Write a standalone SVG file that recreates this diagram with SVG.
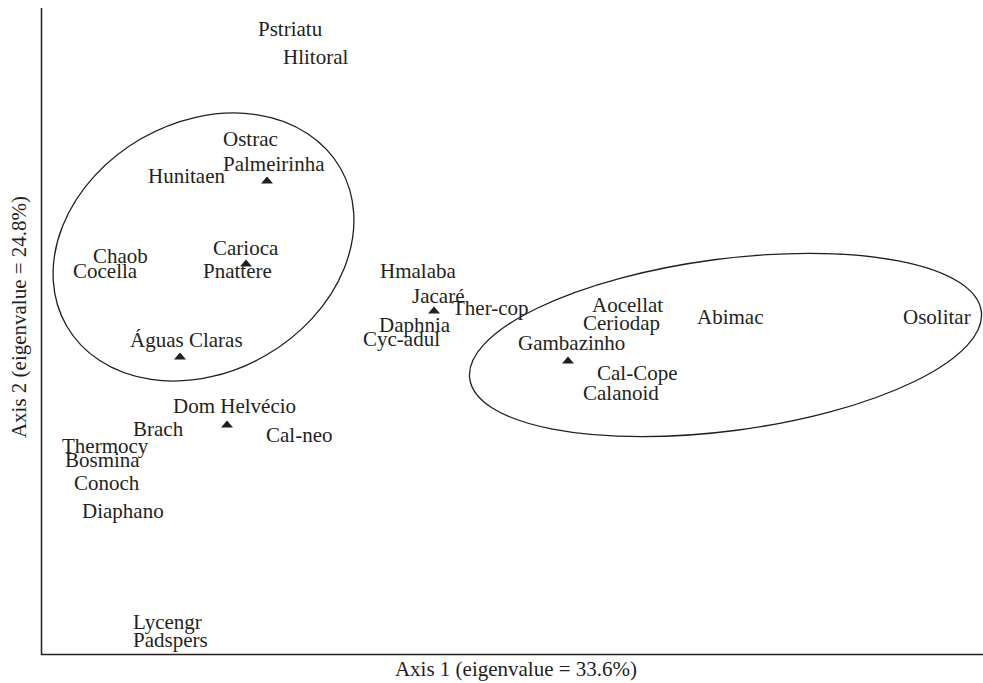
<svg xmlns="http://www.w3.org/2000/svg" width="983" height="683" viewBox="0 0 983 683">
<style>
text{font-family:"Liberation Serif","Times New Roman",serif;font-size:21px;fill:#231f20}
.ax{stroke:#231f20;stroke-width:1.5;fill:none}
.ell{stroke:#231f20;stroke-width:1.3;fill:none}
.tri{fill:#231f20}
</style>
<defs>
<path id="tri" class="tri" d="M-6,3.5 L6,3.5 L0,-3.5 Z"/>
</defs>
<rect width="983" height="683" fill="#fff"/>
<g id="axes">
<path class="ax" d="M41.5,8 V654.5 H983"/>
<text x="516" y="676" text-anchor="middle">Axis 1 (eigenvalue = 33.6%)</text>
<text transform="translate(26,317) rotate(-90)" text-anchor="middle">Axis 2 (eigenvalue = 24.8%)</text>
</g>
<g id="connectors">
<ellipse class="ell" cx="203.5" cy="247" rx="158" ry="125" transform="rotate(-30 203.5 247)"/>
<ellipse class="ell" cx="725.5" cy="345" rx="258" ry="86" transform="rotate(-7.5 725.5 345)"/>
</g>
<g id="site-palmeirinha"><use href="#tri" x="267" y="180"/><text x="223" y="171">Palmeirinha</text></g>
<g id="site-carioca"><use href="#tri" x="246" y="263"/><text x="213" y="255">Carioca</text></g>
<g id="site-aguas-claras"><use href="#tri" x="180" y="356"/><text x="130" y="347">Águas Claras</text></g>
<g id="site-dom-helvecio"><use href="#tri" x="227" y="424"/><text x="173" y="413">Dom Helvécio</text></g>
<g id="site-jacare"><use href="#tri" x="434" y="310"/><text x="412" y="303">Jacaré</text></g>
<g id="site-gambazinho"><use href="#tri" x="568" y="360"/><text x="518" y="350">Gambazinho</text></g>
<g id="species">
<text x="258" y="36">Pstriatu</text>
<text x="283" y="64">Hlitoral</text>
<text x="223" y="146">Ostrac</text>
<text x="148" y="183">Hunitaen</text>
<text x="93" y="263">Chaob</text>
<text x="73" y="278">Cocella</text>
<text x="203" y="278">Pnattere</text>
<text x="133" y="436">Brach</text>
<text x="266" y="442">Cal-neo</text>
<text x="62" y="453">Thermocy</text>
<text x="65" y="467">Bosmina</text>
<text x="74" y="490">Conoch</text>
<text x="82" y="518">Diaphano</text>
<text x="133" y="629">Lycengr</text>
<text x="133" y="647">Padspers</text>
<text x="380" y="278">Hmalaba</text>
<text x="452" y="315">Ther-cop</text>
<text x="379" y="332">Daphnia</text>
<text x="363" y="346">Cyc-adul</text>
<text x="592" y="312">Aocellat</text>
<text x="583" y="330">Ceriodap</text>
<text x="697" y="324">Abimac</text>
<text x="903" y="324">Osolitar</text>
<text x="597" y="380">Cal-Cope</text>
<text x="583" y="400">Calanoid</text>
</g>
</svg>
